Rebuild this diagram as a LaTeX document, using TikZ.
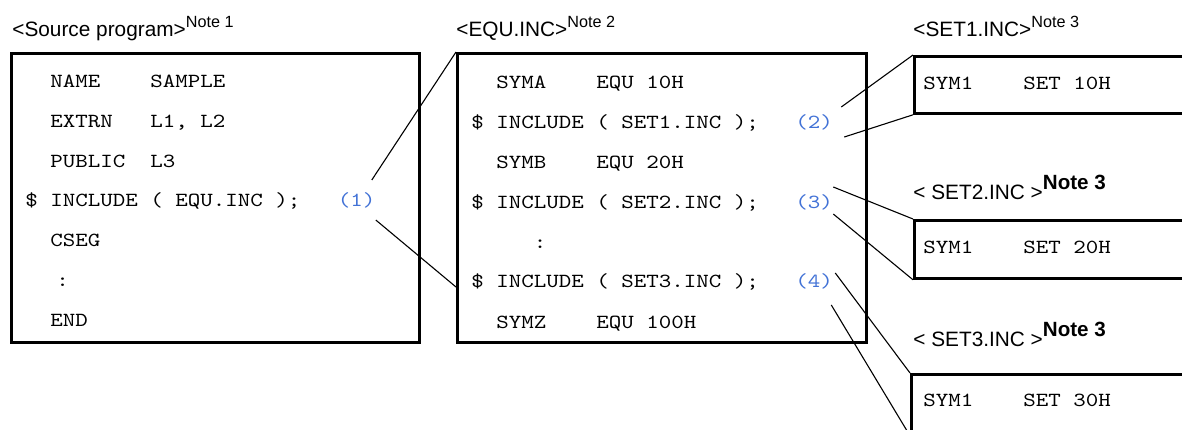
\documentclass[tikz,border=0pt]{standalone}
\usepackage{fontspec}
\setmainfont{Liberation Sans}
\newfontfamily\codefont[FakeStretch=1.19]{Latin Modern Mono}
\usetikzlibrary{calc}
\definecolor{incblue}{RGB}{66,114,214}
\newcommand{\notesup}[1]{\raisebox{4.5pt}{\fontsize{8.1}{9}\selectfont Note~#1}}
\newcommand{\noteboldsup}[1]{\raisebox{5pt}{\fontsize{10.3}{12}\selectfont\bfseries Note~#1}}
\tikzset{
  codebox/.style={draw=black, line width=1.4pt, anchor=north west, inner sep=0pt},
  codeline/.style={anchor=west, inner sep=0pt, text height=8pt, text depth=2pt,
    font={\codefont\fontsize{10}{12}\selectfont}},
  incmark/.style={codeline, text=incblue},
  filelabel/.style={anchor=base west, inner sep=0pt, font={\fontsize{10.4}{12}\selectfont}},
  link/.style={line width=0.55pt}
}

\begin{document}
\begin{tikzpicture}[x=0.5pt, y=-0.5pt]
  \useasboundingbox (0,0) rectangle (1182,429);
  \clip (0,0) rectangle (1182,429);

  % file titles
  \node[filelabel] (srctitle) at (12,36.5) {<Source program>\notesup{1}};
  \node[filelabel] (equtitle) at (456,36.5) {<EQU.INC>\notesup{2}};
  \node[filelabel] (set1title) at (913,36.5) {<SET1.INC>\notesup{3}};
  \node[filelabel] (set2title) at (913,199) {<~SET2.INC~>\noteboldsup{3}};
  \node[filelabel] (set3title) at (913,346) {<~SET3.INC~>\noteboldsup{3}};

  % boxes
  \node[codebox, minimum width=204pt, minimum height=144.5pt] (src) at (10,52) {};
  \node[codebox, minimum width=204.5pt, minimum height=144.5pt] (equ) at (456,52) {};
  \node[codebox, minimum width=150pt, minimum height=28.5pt] (set1) at (913,55) {};
  \node[codebox, minimum width=150pt, minimum height=29pt] (set2) at (913,219) {};
  \node[codebox, minimum width=150pt, minimum height=30pt] (set3) at (910,373) {};

  % source program
  \node[codeline] (src1) at (25,81) {~~NAME~~~~SAMPLE};
  \node[codeline] (src2) at (25,121) {~~EXTRN~~~L1,~L2};
  \node[codeline] (src3) at (25,161) {~~PUBLIC~~L3};
  \node[codeline] (src4) at (25,200) {\$~INCLUDE~(~EQU.INC~);};
  \node[codeline] (src5) at (25,240) {~~CSEG};
  \node[codeline] (src6) at (25,280) {~~\hspace{3pt}:};
  \node[codeline] (src7) at (25,320) {~~END};
  \node[incmark] (inc1) at (337.5,200) {(1)};

  % EQU.INC
  \node[codeline] (equ1) at (471,82) {~~SYMA~~~~EQU~10H};
  \node[codeline] (equ2) at (471,122) {\$~INCLUDE~(~SET1.INC~);};
  \node[codeline] (equ3) at (471,162) {~~SYMB~~~~EQU~20H};
  \node[codeline] (equ4) at (471,202) {\$~INCLUDE~(~SET2.INC~);};
  \node[codeline] (equ5) at (471,242) {~~~~~:};
  \node[codeline] (equ6) at (471,281) {\$~INCLUDE~(~SET3.INC~);};
  \node[codeline] (equ7) at (471,322) {~~SYMZ~~~~EQU~100H};
  \node[incmark] (inc2) at (795,122) {(2)};
  \node[incmark] (inc3) at (795,202) {(3)};
  \node[incmark] (inc4) at (795,281) {(4)};

  % SETn.INC
  \node[codeline] (set1line) at (923,83) {SYM1~~~~SET~10H};
  \node[codeline] (set2line) at (923,247) {SYM1~~~~SET~20H};
  \node[codeline] (set3line) at (923,400) {SYM1~~~~SET~30H};

  % include links
  \coordinate (inc1a) at ($(inc1.east)+(-4,-20)$);
  \coordinate (inc1b) at ($(inc1.east)+(0,20)$);
  \coordinate (equin) at ($(equ.north west)+(0,235)$);
  \coordinate (inc2a) at ($(inc2.east)+(8,-15)$);
  \coordinate (inc2b) at ($(inc2.east)+(11,15)$);
  \coordinate (inc3a) at ($(inc3.east)+(0,-15)$);
  \coordinate (inc3b) at ($(inc3.east)+(0,12)$);
  \coordinate (inc4a) at ($(inc4.east)+(2,-8)$);
  \coordinate (inc4b) at ($(inc4.east)+(-2,24)$);
  \draw[link] (inc1a) -- (equ.north west);
  \draw[link] (inc1b) -- (equin);
  \draw[link] (inc2a) -- (set1.north west);
  \draw[link] (inc2b) -- (set1.south west);
  \draw[link] (inc3a) -- (set2.north west);
  \draw[link] (inc3b) -- (set2.south west);
  \draw[link] (inc4a) -- (set3.north west);
  \draw[link] (inc4b) -- (set3.south west);
\end{tikzpicture}
\end{document}
